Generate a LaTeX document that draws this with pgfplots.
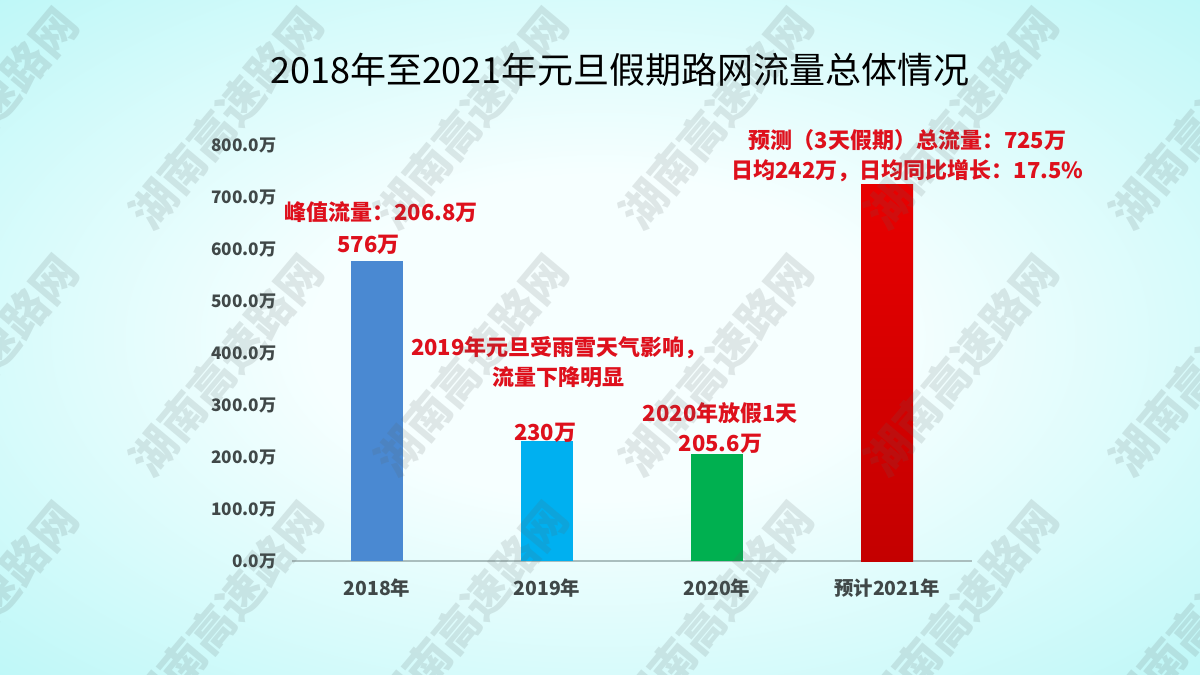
\documentclass[border=0pt]{standalone}
\usepackage{pgfplots}
\pgfplotsset{compat=1.18}
\usepackage{fontspec}
\setmainfont{Noto Sans CJK SC}

\definecolor{bgin}{RGB}{246,255,255}
\definecolor{bgout}{RGB}{180,246,246}
\definecolor{c18}{RGB}{74,137,210}
\definecolor{c19}{RGB}{0,176,240}
\definecolor{c20}{RGB}{0,176,80}
\definecolor{c21top}{RGB}{232,0,0}
\definecolor{c21bot}{RGB}{196,0,0}
\definecolor{notered}{RGB}{222,16,28}
\definecolor{ticktext}{RGB}{64,72,72}
\definecolor{axisgray}{RGB}{170,190,190}
\definecolor{wmgray}{RGB}{90,100,100}

\pgfdeclareradialshading{bgshade}{\pgfpoint{0bp}{0bp}}{%
  color(0bp)=(bgin); color(12bp)=(bgin); color(40bp)=(bgout); color(50bp)=(bgout)}

\begin{document}
\begin{tikzpicture}[x=0.5pt,y=0.5pt]
% 1 unit = 1 px of the 1200x675 reference, y measured from the bottom
\useasboundingbox (0,0) rectangle (1200,675);
\shade[shading=bgshade] (0,0) rectangle (1200,675);

\node[font=\fontsize{18}{22}\selectfont, text=black] at (620,605)
  {2018年至2021年元旦假期路网流量总体情况};

\begin{axis}[
    at={(146pt,57pt)}, anchor=south west,
    scale only axis, width=340pt, height=208pt,
    xmin=-0.5, xmax=3.5, ymin=0, ymax=800,
    axis x line*=bottom, axis y line*=left,
    x axis line style={draw=axisgray, line width=0.6pt, -},
    y axis line style={draw=none},
    major tick length=0pt,
    xtick={0,1,2,3},
    xticklabels={2018年,2019年,2020年,预计2021年},
    ytick={0,100,...,800},
    yticklabel={\pgfmathprintnumber[fixed,fixed zerofill,precision=1]{\tick}万},
    /pgf/number format/assume math mode=true,
    xticklabel style={font=\fontsize{9.7}{11}\selectfont\bfseries, text=ticktext,
      anchor=center, yshift=-13.5pt},
    yticklabel style={font=\fontsize{8.6}{10}\selectfont\bfseries, text=ticktext,
      inner sep=0pt, xshift=-7.5pt},
    ybar, bar width=26pt,
    clip=false,
  ]
  \addplot[ybar, bar shift=0pt, fill=c18, draw=none] coordinates {(0,576)};
  \addplot[ybar, bar shift=0pt, fill=c19, draw=none] coordinates {(1,230)};
  \addplot[ybar, bar shift=0pt, fill=c20, draw=none] coordinates {(2,205.6)};
  \addplot[ybar, bar shift=0pt, draw=none, top color=c21top, bottom color=c21bot]
    coordinates {(3,725)};

  \begin{scope}[every node/.style={text=notered, font=\fontsize{11}{15}\selectfont\bfseries, align=center}]
    \node at (axis cs:0.024,671) {峰值流量：206.8万};
    \node at (axis cs:-0.05,608) {576万};
    \node at (axis cs:1.07,383) {2019年元旦受雨雪天气影响，\\流量下降明显};
    \node at (axis cs:0.99,246) {230万};
    \node at (axis cs:2.02,255) {2020年放假1天\\205.6万};
    \node at (axis cs:3.12,780) {预测（3天假期）总流量：725万\\日均242万，日均同比增长：17.5\%};
  \end{scope}
\end{axis}

% watermark
\foreach \i in {0,...,5}{
  \foreach \j in {0,1,2}{
    \node[rotate=50, opacity=0.15, text=wmgray,
      font=\fontsize{22.5}{23}\selectfont\bfseries]
      at ({-19+245*\i},{675-(118+247*\j)}) {湖南高速路网};
  }
}
\end{tikzpicture}
\end{document}
